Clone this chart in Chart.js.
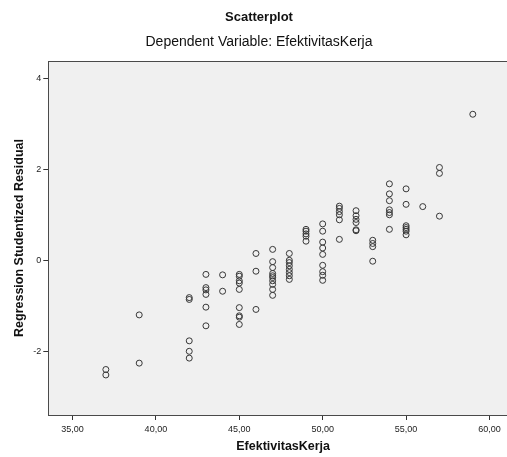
<!DOCTYPE html>
<html>
<head>
<meta charset="utf-8">
<script src="https://cdn.jsdelivr.net/npm/chart.js@4/dist/chart.umd.min.js"></script>
<style>
  html, body { margin: 0; padding: 0; background: #fff; overflow: hidden; }
  canvas { display: block; }
</style>
</head>
<body>
<canvas id="scatter" width="522" height="457"></canvas>
<script>
// EfektivitasKerja (x) and regression studentized residual (y)
const efektivitasKerja = [
  37, 37,
  39, 39,
  42, 42, 42, 42, 42,
  43, 43, 43, 43, 43, 43,
  44, 44,
  45, 45, 45, 45, 45, 45, 45, 45, 45,
  46, 46, 46,
  47, 47, 47, 47, 47, 47, 47, 47, 47, 47,
  48, 48, 48, 48, 48, 48, 48, 48,
  49, 49, 49, 49, 49,
  50, 50, 50, 50, 50, 50, 50, 50, 50,
  51, 51, 51, 51, 51, 51,
  52, 52, 52, 52, 52, 52,
  53, 53, 53, 53,
  54, 54, 54, 54, 54, 54, 54,
  55, 55, 55, 55, 55, 55, 55,
  56,
  57, 57, 57,
  59
];
const residual = [
  -2.40, -2.52,
  -1.20, -2.26,
  -0.82, -0.86, -1.77, -2.00, -2.15,
  -0.31, -0.60, -0.65, -0.75, -1.03, -1.44,
  -0.32, -0.68,
  -0.31, -0.35, -0.45, -0.50, -0.64, -1.04, -1.22, -1.25, -1.41,
  0.15, -0.24, -1.08,
  0.24, -0.03, -0.16, -0.29, -0.34, -0.38, -0.45, -0.53, -0.64, -0.77,
  0.15, 0.00, -0.05, -0.12, -0.20, -0.27, -0.34, -0.42,
  0.68, 0.64, 0.58, 0.53, 0.42,
  0.80, 0.64, 0.40, 0.27, 0.13, -0.11, -0.25, -0.33, -0.44,
  1.19, 1.14, 1.07, 1.00, 0.89, 0.46,
  1.09, 0.98, 0.90, 0.83, 0.67, 0.65,
  0.44, 0.37, 0.30, -0.02,
  1.68, 1.46, 1.31, 1.11, 1.05, 1.00, 0.68,
  1.57, 1.23, 0.76, 0.72, 0.68, 0.64, 0.56,
  1.18,
  2.04, 1.91, 0.97,
  3.21
];
const xTicks = [35, 40, 45, 50, 55, 60];
const yTicks = [-2, 0, 2, 4];

const points = efektivitasKerja.map((x, i) => ({ x: x, y: residual[i] }));

// grey plot background + frame like the SPSS output
const plotFrame = {
  id: 'plotFrame',
  beforeDraw(chart) {
    const { ctx, chartArea: a } = chart;
    ctx.save();
    ctx.fillStyle = '#f0f0f0';
    ctx.fillRect(a.left, a.top, a.right - a.left, a.bottom - a.top);
    ctx.restore();
  },
  afterDraw(chart) {
    const { ctx, chartArea: a } = chart;
    ctx.save();
    ctx.strokeStyle = '#4a4a4a';
    ctx.lineWidth = 1;
    ctx.strokeRect(Math.round(a.left) + 0.5, Math.round(a.top) + 0.5,
      Math.round(a.right - a.left), Math.round(a.bottom - a.top));
    ctx.restore();
  }
};

const font = 'Arial, "Liberation Sans", sans-serif';

new Chart(document.getElementById('scatter'), {
  type: 'scatter',
  data: {
    datasets: [{
      data: points,
      pointStyle: 'circle',
      pointRadius: 3,
      pointHoverRadius: 3,
      pointBorderWidth: 1,
      borderColor: '#383838',
      backgroundColor: 'rgba(0,0,0,0)'
    }]
  },
  plugins: [plotFrame],
  options: {
    responsive: false,
    animation: false,
    devicePixelRatio: 1,
    layout: { padding: { left: 0, right: 4, top: 0, bottom: 0 } },
    plugins: {
      legend: { display: false },
      tooltip: { enabled: false },
      title: {
        display: true,
        text: 'Scatterplot',
        color: '#111',
        font: { family: font, size: 13, weight: 'bold' },
        padding: { top: 10, bottom: 0 }
      },
      subtitle: {
        display: true,
        text: 'Dependent Variable: EfektivitasKerja',
        color: '#111',
        font: { family: font, size: 14 },
        padding: { top: 8, bottom: 10.6 }
      }
    },
    scales: {
      x: {
        type: 'linear',
        min: 33.55,
        max: 61.71,
        afterFit(scale) { scale.height = 42; },
        afterBuildTicks(scale) { scale.ticks = xTicks.map(v => ({ value: v })); },
        border: { display: false },
        grid: { drawOnChartArea: false, drawTicks: true, tickLength: 5, color: '#333' },
        ticks: {
          color: '#222',
          padding: 4,
          maxRotation: 0,
          font: { family: font, size: 9 },
          callback: v => v.toFixed(2).replace('.', ',')
        },
        title: {
          display: true,
          text: 'EfektivitasKerja',
          color: '#111',
          font: { family: font, size: 12.5, weight: 'bold' },
          padding: { top: 0, bottom: 2.5 }
        }
      },
      y: {
        type: 'linear',
        min: -3.40,
        max: 4.38,
        afterFit(scale) { scale.width = 48.3; },
        afterBuildTicks(scale) { scale.ticks = yTicks.map(v => ({ value: v })); },
        border: { display: false },
        grid: { drawOnChartArea: false, drawTicks: true, tickLength: 5, color: '#333' },
        ticks: {
          color: '#222',
          padding: 2,
          font: { family: font, size: 9 },
          callback: v => String(v)
        },
        title: {
          display: true,
          text: 'Regression Studentized Residual',
          color: '#111',
          font: { family: font, size: 12.5, weight: 'bold' },
          padding: { top: 12.5, bottom: 0 }
        }
      }
    }
  }
});
</script>
</body>
</html>
